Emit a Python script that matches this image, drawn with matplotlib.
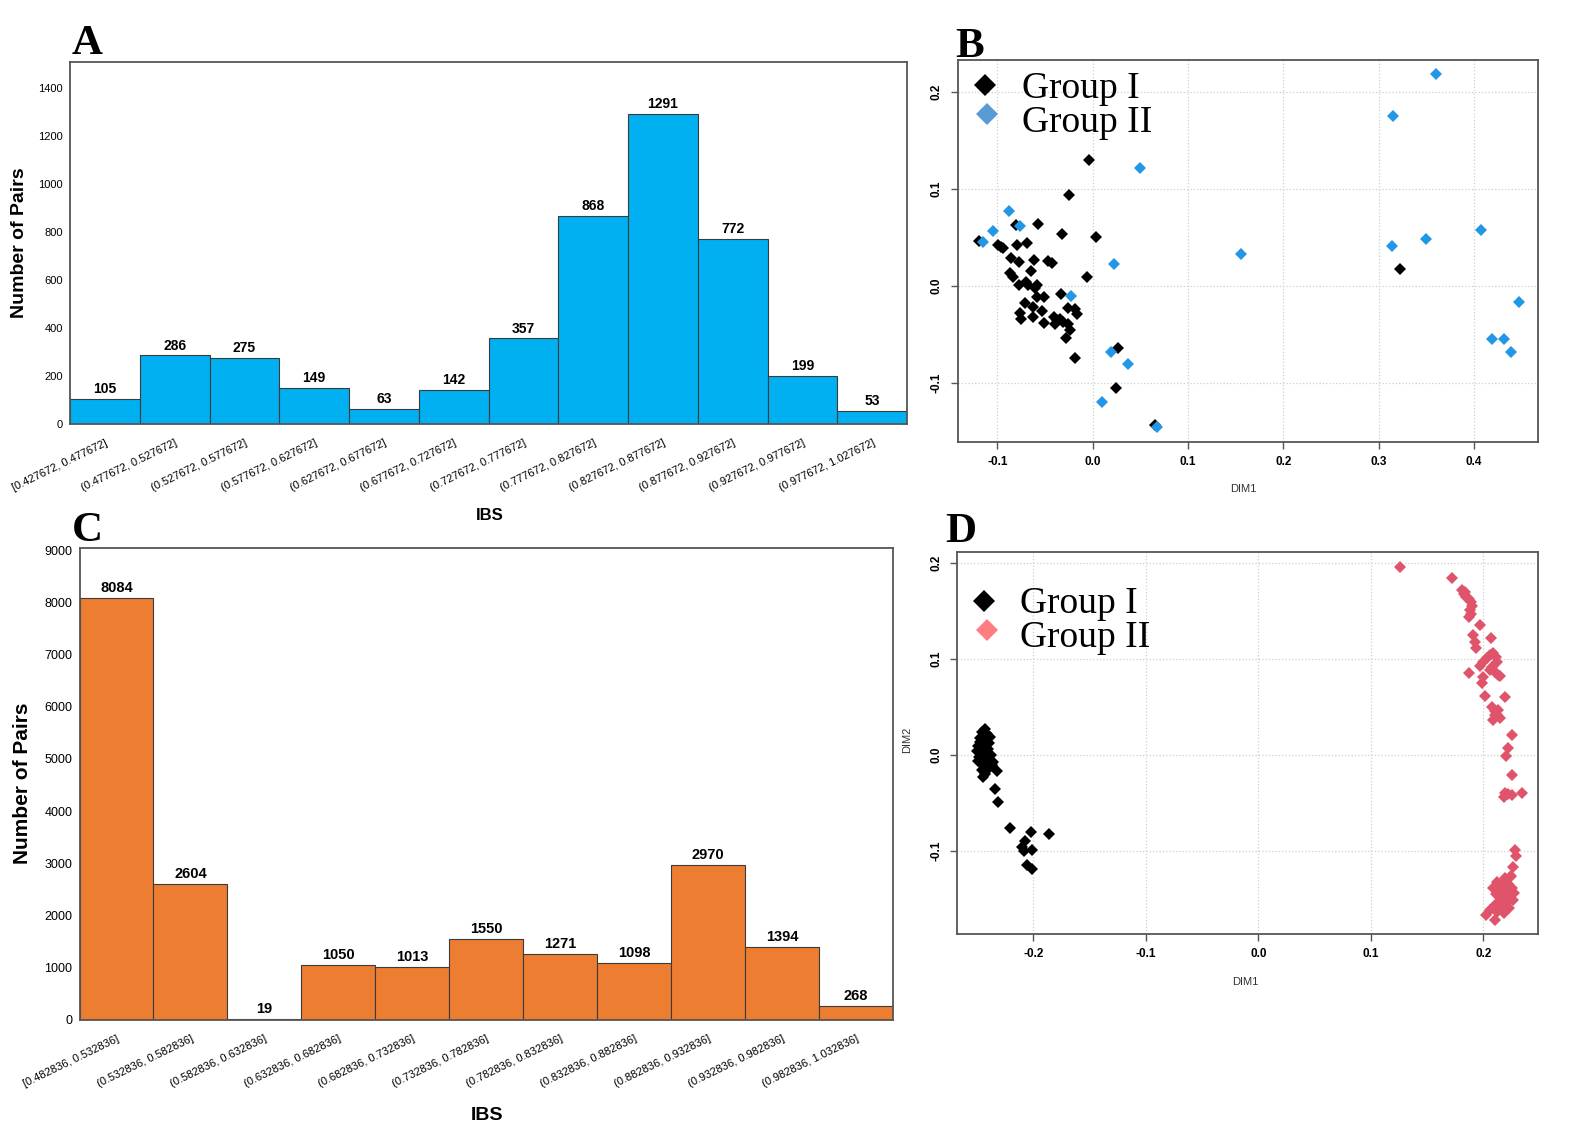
import matplotlib
matplotlib.use("Agg")
import matplotlib.pyplot as plt
import numpy as np
from matplotlib.ticker import FormatStrFormatter

plt.rcParams['font.family'] = ['Liberation Sans', 'DejaVu Sans']

# ---------------- data ----------------
a_labels = ["[0.427672, 0.477672]", "(0.477672, 0.527672]", "(0.527672, 0.577672]",
            "(0.577672, 0.627672]", "(0.627672, 0.677672]", "(0.677672, 0.727672]",
            "(0.727672, 0.777672]", "(0.777672, 0.827672]", "(0.827672, 0.877672]",
            "(0.877672, 0.927672]", "(0.927672, 0.977672]", "(0.977672, 1.027672]"]
a_counts = [105, 286, 275, 149, 63, 142, 357, 868, 1291, 772, 199, 53]

c_labels = ["[0.482836, 0.532836]", "(0.532836, 0.582836]", "(0.582836, 0.632836]",
            "(0.632836, 0.682836]", "(0.682836, 0.732836]", "(0.732836, 0.782836]",
            "(0.782836, 0.832836]", "(0.832836, 0.882836]", "(0.882836, 0.932836]",
            "(0.932836, 0.982836]", "(0.982836, 1.032836]"]
c_counts = [8084, 2604, 19, 1050, 1013, 1550, 1271, 1098, 2970, 1394, 268]

b_g1_x = [-0.0035, -0.0245, -0.119, -0.081, -0.057, -0.0325, 0.003, -0.099, -0.094, -0.096,
          -0.079, -0.069, -0.086, -0.077, -0.0615, -0.0465, -0.043, -0.087, -0.084, -0.065,
          -0.0056, -0.077, -0.070, -0.068, -0.059, -0.0605, -0.059, -0.051, -0.033, -0.071,
          -0.063, -0.0535, -0.0255, -0.019, -0.017, -0.076, -0.075, -0.063, -0.051, -0.041,
          -0.038, -0.034, -0.0395, -0.031, -0.0255, -0.024, -0.0283, 0.026, -0.019, 0.0245,
          0.0654, 0.3218]
b_g1_y = [0.130, 0.094, 0.046, 0.0625, 0.0636, 0.053, 0.0505, 0.042, 0.039, 0.040,
          0.042, 0.044, 0.029, 0.024, 0.0265, 0.025, 0.023, 0.0134, 0.009, 0.015,
          0.0086, 0.0007, 0.0034, 0.0007, 0.0007, -0.0027, -0.012, -0.012, -0.009, -0.018,
          -0.0216, -0.026, -0.0227, -0.024, -0.0296, -0.0285, -0.034, -0.0326, -0.0388, -0.032,
          -0.035, -0.034, -0.039, -0.037, -0.039, -0.0457, -0.054, -0.0646, -0.075, -0.105,
          -0.144, 0.0169]
b_g2_x = [0.0497, -0.0878, -0.0762, -0.105, -0.1147, 0.1557, 0.0227, -0.023, 0.0192, 0.0374,
          0.0094, 0.067, 0.360, 0.3144, 0.4075, 0.3497, 0.3139, 0.447, 0.4187, 0.4316, 0.4386]
b_g2_y = [0.1216, 0.077, 0.0619, 0.0564, 0.0454, 0.0326, 0.022, -0.0103, -0.0687, -0.081,
          -0.1196, -0.1454, 0.218, 0.175, 0.0577, 0.0478, 0.0412, -0.0171, -0.055, -0.055, -0.0687]

d_g1_x = [-0.243, -0.241, -0.245, -0.242, -0.247, -0.239, -0.249, -0.244, -0.240, -0.250,
          -0.246, -0.242, -0.238, -0.248, -0.244, -0.240, -0.246, -0.242, -0.237, -0.244,
          -0.240, -0.246, -0.243, -0.245, -0.236, -0.247, -0.241, -0.2385, -0.2495, -0.2455,
          -0.2326, -0.234, -0.2316, -0.2207, -0.2024, -0.1858, -0.2074, -0.2104, -0.2083,
          -0.2009, -0.2059, -0.2015]
d_g1_y = [0.027, 0.022, 0.020, 0.016, 0.014, 0.012, 0.009, 0.009, 0.006, 0.004,
          0.003, 0.002, 0.000, -0.002, -0.003, -0.005, -0.008, -0.009, -0.010, -0.013,
          -0.015, -0.016, -0.020, -0.023, -0.007, 0.018, -0.001, 0.019, -0.006, 0.024,
          -0.0167, -0.0358, -0.0493, -0.0764, -0.0806, -0.0826, -0.0896, -0.0955, -0.100,
          -0.099, -0.1146, -0.1188]
d_g2_x = [0.126, 0.172, 0.181, 0.183, 0.185, 0.187, 0.189, 0.190, 0.188, 0.189, 0.187, 0.184,
          0.197, 0.191, 0.1926, 0.1935, 0.2066,
          0.197, 0.200, 0.203, 0.206, 0.209, 0.211, 0.212, 0.208, 0.206, 0.210,
          0.1877, 0.200, 0.1986, 0.2133, 0.215, 0.2015, 0.2193,
          0.208, 0.210, 0.212, 0.2104, 0.2148, 0.209, 0.213,
          0.2252, 0.222, 0.220, 0.2252, 0.2193, 0.2252, 0.234, 0.2184, 0.222,
          0.2281, 0.229, 0.2264, 0.2246,
          0.2193, 0.2237, 0.2122, 0.2166, 0.222, 0.2086, 0.2140, 0.2193, 0.2255, 0.2113,
          0.2175, 0.2229, 0.2273, 0.2148, 0.2211, 0.2264, 0.2104, 0.2166, 0.2229, 0.206,
          0.2122, 0.2184, 0.2024, 0.2104]
d_g2_y = [0.196, 0.184, 0.172, 0.168, 0.165, 0.162, 0.159, 0.155, 0.151, 0.147, 0.144, 0.170,
          0.135, 0.125, 0.118, 0.111, 0.1215,
          0.093, 0.097, 0.101, 0.104, 0.106, 0.102, 0.097, 0.092, 0.089, 0.086,
          0.0857, 0.0816, 0.0753, 0.0833, 0.082, 0.0615, 0.0608,
          0.050, 0.046, 0.042, 0.0417, 0.0382, 0.036, 0.047,
          0.0208, 0.0069, -0.0007, -0.0208, -0.0399, -0.0420, -0.0399, -0.0434, -0.041,
          -0.099, -0.105, -0.1167, -0.126,
          -0.128, -0.127, -0.132, -0.134, -0.134, -0.1385, -0.1396, -0.1406, -0.1385, -0.1448,
          -0.1458, -0.1469, -0.1438, -0.152, -0.1531, -0.151, -0.1563, -0.1583, -0.1594, -0.1615,
          -0.1635, -0.1646, -0.1667, -0.172]

legend_labels = ["Group I", "Group II"]

# ---------------- figure ----------------
W, H = 1572, 1138
fig = plt.figure(figsize=(W / 100, H / 100), dpi=100)


def add_ax(l, r, t, b):
    return fig.add_axes([l / W, 1 - b / H, (r - l) / W, (b - t) / H])


frame_col = '#555555'


def bar_panel(ax, labels, counts, color, ymax, ytick_fs, val_fs, lab_fs, yticks):
    x = np.arange(len(counts))
    bars = ax.bar(x, counts, width=1.0, color=color, edgecolor='#3a3a3a', linewidth=0.8)
    ax.bar_label(bars, padding=2, fontsize=val_fs, fontweight='bold')
    ax.set_xlim(-0.5, len(counts) - 0.5)
    ax.set_ylim(0, ymax)
    ax.set_yticks(yticks)
    ax.set_xticks(x)
    ax.set_xticklabels(labels, rotation=26, ha='right', va='top', rotation_mode='anchor',
                       fontsize=lab_fs)
    ax.tick_params(axis='both', length=0)
    ax.tick_params(axis='y', labelsize=ytick_fs, pad=5)
    ax.tick_params(axis='x', pad=10)
    for s in ax.spines.values():
        s.set_color(frame_col)
        s.set_linewidth(1.3)
    return ax


axA = add_ax(70, 907, 62, 424)
bar_panel(axA, a_labels, a_counts, '#00B0F0', 1508, 8, 10, 8,
          [0, 200, 400, 600, 800, 1000, 1200, 1400])
axA.set_xlabel('IBS', fontsize=12, fontweight='bold', va='center')
axA.xaxis.set_label_coords(0.502, -0.254)
axA.set_ylabel('Number of Pairs', fontsize=14, fontweight='bold', va='center')
axA.yaxis.set_label_coords(-0.060, 0.5)

axC = add_ax(79.5, 893, 548, 1020)
bar_panel(axC, c_labels, c_counts, '#ED7D31', 9040, 9, 10.5, 8,
          list(range(0, 9001, 1000)))
axC.set_xlabel('IBS', fontsize=14, fontweight='bold', va='center')
axC.xaxis.set_label_coords(0.501, -0.203)
axC.set_ylabel('Number of Pairs', fontsize=15, fontweight='bold', va='center')
axC.yaxis.set_label_coords(-0.0704, 0.502)


def scatter_panel(ax, g1x, g1y, g2x, g2y, c2, legc2, xlim, ylim, xticks, yticks,
                  leg_mark, leg_text, ylabel=None, ylab_coords=None, xlab_coords=None):
    ax.grid(True, linestyle=':', color='#cfcfcf', linewidth=0.9)
    ax.set_axisbelow(True)
    ax.plot(g1x, g1y, linestyle='none', marker='D', ms=6.2, color='black', mew=0)
    ax.plot(g2x, g2y, linestyle='none', marker='D', ms=6.0, color=c2, mew=0)
    ax.set_xlim(*xlim)
    ax.set_ylim(*ylim)
    ax.set_xticks(xticks)
    ax.set_yticks(yticks)
    ax.xaxis.set_major_formatter(FormatStrFormatter('%.1f'))
    ax.yaxis.set_major_formatter(FormatStrFormatter('%.1f'))
    ax.tick_params(axis='both', direction='out', length=5, color=frame_col, width=1,
                   labelsize=8.5)
    ax.tick_params(axis='x', pad=5)
    ax.tick_params(axis='y', pad=6, labelrotation=90)
    for lab in ax.get_xticklabels() + ax.get_yticklabels():
        lab.set_fontweight('bold')
    for lab in ax.get_yticklabels():
        lab.set_va('center')
    for s in ax.spines.values():
        s.set_color(frame_col)
        s.set_linewidth(1.3)
    ax.set_xlabel('DIM1', fontsize=8, color='#333333', va='center')
    ax.xaxis.set_label_coords(*xlab_coords)
    if ylabel:
        ax.set_ylabel(ylabel, fontsize=8, color='#333333', va='center')
        ax.yaxis.set_label_coords(*ylab_coords)
    # legend (manual, mimicking the pasted legend)
    cols = ['black', legc2]
    for (mx, my), (tx, ty), col, lab in zip(leg_mark, leg_text, cols, legend_labels):
        ax.plot([mx], [my], marker='D', ms=11, color=col, mew=0, transform=ax.transAxes,
                clip_on=False, linestyle='none')
        ax.text(tx, ty, lab, transform=ax.transAxes, fontsize=27,
                family=['Liberation Serif', 'DejaVu Serif'], va='baseline', ha='left')


axB = add_ax(957.7, 1538, 60, 441.7)
scatter_panel(axB, b_g1_x, b_g1_y, b_g2_x, b_g2_y, '#2297E6', '#5B9BD5',
              (-0.1417, 0.467), (-0.1608, 0.2327),
              [-0.1, 0.0, 0.1, 0.2, 0.3, 0.4], [-0.1, 0.0, 0.1, 0.2],
              [(0.047, 0.9345), (0.051, 0.858)], [(0.110, 0.900), (0.110, 0.812)],
              xlab_coords=(0.4917, -0.124))

axD = add_ax(957.3, 1538, 552.3, 934)
scatter_panel(axD, d_g1_x, d_g1_y, d_g2_x, d_g2_y, '#DF536B', '#FF7C80',
              (-0.2676, 0.2486), (-0.1865, 0.2111),
              [-0.2, -0.1, 0.0, 0.1, 0.2], [-0.1, 0.0, 0.1, 0.2],
              [(0.0465, 0.872), (0.0506, 0.796)], [(0.108, 0.840), (0.108, 0.753)],
              ylabel='DIM2', ylab_coords=(-0.0866, 0.508), xlab_coords=(0.4954, -0.126))

# panel letters
serif = ['Liberation Serif', 'DejaVu Serif']
for letter, (px, py) in zip("ABCD", [(72, 54), (955, 57), (72, 541), (945, 542)]):
    fig.text(px / W, 1 - py / H, letter, fontsize=31, fontweight='bold', family=serif,
             ha='left', va='baseline')

fig.savefig('out.png', dpi=100, facecolor='white')
